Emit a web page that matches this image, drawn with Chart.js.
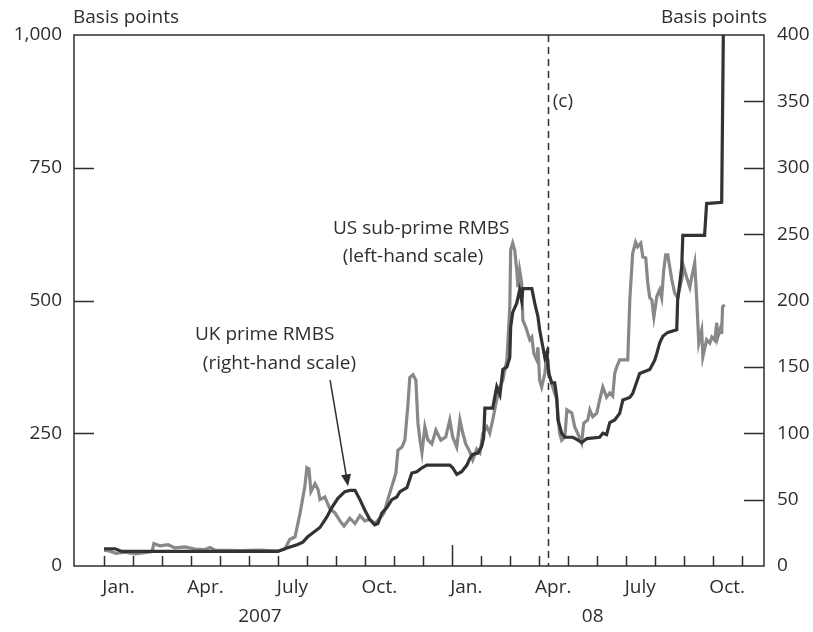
<!DOCTYPE html>
<html lang="en">
<head>
<meta charset="UTF-8">
<title>RMBS spreads</title>
<script src="https://cdn.jsdelivr.net/npm/chart.js"></script>
<style>
  html, body { margin: 0; padding: 0; background: #fff; }
  #wrap { width: 813px; height: 632px; }
</style>
</head>
<body>
<div id="wrap"><canvas id="myChart" width="813" height="632"></canvas></div>
<script>
// x values are months since 1 Jan 2007 (12 = Jan 2008)
const monthLabels = ['Jan.', 'Apr.', 'July', 'Oct.', 'Jan.', 'Apr.', 'July', 'Oct.'];
const monthLabelPos = [0.5, 3.5, 6.5, 9.5, 12.5, 15.5, 18.5, 21.5];
const yearLabels = ['2007', '08'];
const yearLabelPos = [5.38, 16.86];
const leftTicks = [0, 250, 500, 750, 1000];
const rightTicks = [0, 50, 100, 150, 200, 250, 300, 350, 400];

// US sub-prime RMBS, left-hand scale
const usMonths = [0.00, 0.21, 0.41, 0.72, 1.07, 1.41, 1.66, 1.72, 1.93, 2.21, 2.45, 2.79, 3.14, 3.48, 3.66, 3.83, 4.69, 5.38, 6.00,
  6.24, 6.41, 6.59, 6.76, 6.93, 7.00, 7.07, 7.14, 7.28, 7.38, 7.45, 7.62, 7.79, 7.97, 8.14, 8.28, 8.48, 8.66, 8.83, 9.00,
  9.17, 9.34, 9.52, 9.66, 9.79, 9.93, 10.07, 10.14, 10.28, 10.38, 10.48, 10.55, 10.66, 10.76, 10.83, 10.90, 10.97, 11.07,
  11.17, 11.31, 11.45, 11.62, 11.79, 11.93, 12.03, 12.17, 12.28, 12.38, 12.48, 12.62, 12.72, 12.86, 12.97, 13.07, 13.21,
  13.31, 13.41, 13.55, 13.66, 13.76, 13.90, 14.00, 14.03, 14.10, 14.17, 14.24, 14.28, 14.34, 14.41, 14.45, 14.55, 14.69,
  14.76, 14.83, 14.93, 14.97, 15.03, 15.10, 15.21, 15.28, 15.31, 15.38, 15.48, 15.62, 15.72, 15.79, 15.90, 15.97, 16.14,
  16.24, 16.34, 16.48, 16.55, 16.69, 16.76, 16.86, 17.00, 17.10, 17.21, 17.34, 17.45, 17.55, 17.62, 17.69, 17.79, 18.07,
  18.14, 18.24, 18.34, 18.41, 18.52, 18.59, 18.69, 18.76, 18.83, 18.90, 18.97, 19.07, 19.17, 19.24, 19.31, 19.38, 19.45,
  19.59, 19.69, 19.79, 19.93, 20.00, 20.10, 20.21, 20.28, 20.38, 20.45, 20.52, 20.62, 20.66, 20.79, 20.90, 20.97, 21.07,
  21.14, 21.17, 21.28, 21.31, 21.34, 21.41];
const usValues = [30, 28, 24, 26, 23, 25, 27, 42, 38, 40, 34, 36, 32, 31, 35, 30, 29, 30, 28,
  32, 50, 55, 98, 150, 185, 183, 140, 155, 145, 125, 130, 108, 100, 85, 75, 90, 80, 95, 85,
  88, 80, 90, 100, 125, 150, 175, 218, 224, 237, 300, 355, 360, 350, 270, 237, 213, 262,
  238, 230, 256, 237, 243, 275, 243, 224, 275, 250, 230, 215, 200, 220, 213, 250, 262,
  250, 275, 313, 337, 350, 388, 488, 595, 608, 595, 557, 525, 557, 533, 463, 450, 426,
  431, 400, 388, 412, 350, 337, 363, 401, 382, 356, 337, 313, 250, 237, 243, 294, 288,
  262, 250, 232, 269, 275, 294, 281, 288, 313, 337, 318, 326, 320, 363, 375, 388, 388,
  501, 589, 610, 601, 608, 582, 580, 533, 505, 501, 469, 507, 520, 505, 557, 586, 586,
  539, 514, 505, 539, 563, 544, 525, 545, 571, 501, 420, 444, 394, 426, 420, 431, 425,
  458, 430, 450, 437, 488, 492];

// UK prime RMBS, right-hand scale
const ukMonths = [0.00, 0.38, 0.62, 6.00, 6.31, 6.66, 6.86, 7.03, 7.21, 7.45, 7.69, 7.86, 8.07, 8.31, 8.48, 8.66, 8.83,
  9.00, 9.17, 9.34, 9.45, 9.59, 9.76, 9.93, 10.10, 10.21, 10.45, 10.62, 10.79, 10.97, 11.14, 11.93, 12.03, 12.17, 12.34,
  12.52, 12.62, 12.72, 12.90, 13.03, 13.10, 13.14, 13.41, 13.55, 13.66, 13.76, 13.90, 14.00, 14.03, 14.10, 14.24, 14.34,
  14.41, 14.45, 14.76, 14.86, 14.97, 15.03, 15.14, 15.21, 15.28, 15.34, 15.45, 15.55, 15.62, 15.66, 15.79, 15.90, 16.17,
  16.34, 16.48, 16.66, 17.10, 17.21, 17.34, 17.45, 17.62, 17.79, 17.90, 18.14, 18.24, 18.48, 18.83, 19.00, 19.07, 19.17,
  19.28, 19.45, 19.76, 19.79, 19.93, 19.97, 20.72, 20.79, 21.31, 21.38];
const ukValues = [13, 13, 11, 11, 13.6, 16, 18, 22, 25, 29, 37, 44, 51, 56, 57, 57, 50,
  42, 35, 31, 32, 40, 44, 50, 52, 56, 59, 70, 71, 74, 76, 76, 74, 69, 71,
  76, 81, 84, 85, 90, 97, 119, 119, 135, 129, 148, 150, 157, 180, 191, 198, 208,
  200, 209, 209, 198, 188, 178, 165, 157, 161, 145, 138, 138, 127, 110, 100, 97, 97,
  95, 93, 96, 97, 100, 99, 108, 110, 115, 125, 127, 130, 145, 148, 155, 160, 168,
  173, 176, 178, 200, 225, 249, 249, 273, 274, 430];

const markerMonth = 15.33; // dashed line (c)

const INK = '#2e2e2e';
const FONT = '"Open Sans", "Noto Sans", sans-serif';
const FSIZE = 19;

const zip = (xs, ys) => xs.map((x, i) => ({ x: x, y: ys[i] }));

const decorations = {
  id: 'decorations',
  beforeDatasetsDraw(chart) {
    const { ctx, chartArea: a, scales } = chart;
    const x = scales.x;
    ctx.save();
    ctx.strokeStyle = INK;
    ctx.lineWidth = 1.5;
    ctx.setLineDash([7, 5]);
    const px = Math.round(x.getPixelForValue(markerMonth)) + 0.5;
    ctx.beginPath();
    ctx.moveTo(px, a.top);
    ctx.lineTo(px, a.bottom);
    ctx.stroke();
    ctx.restore();
  },
  afterDraw(chart) {
    const { ctx, chartArea: a, scales } = chart;
    const x = scales.x, y = scales.y, y1 = scales.y1;
    ctx.save();
    ctx.strokeStyle = INK;
    ctx.lineWidth = 1.5;
    ctx.strokeRect(a.left, a.top, a.right - a.left, a.bottom - a.top);

    // month ticks along the bottom, pointing in
    ctx.beginPath();
    for (let m = 0; m <= 22; m++) {
      const px = Math.round(x.getPixelForValue(m)) + 0.5;
      const len = m === 12 ? 21 : 10;
      ctx.moveTo(px, a.bottom);
      ctx.lineTo(px, a.bottom - len);
    }
    // y ticks, pointing in
    [250, 500, 750].forEach(v => {
      const py = Math.round(y.getPixelForValue(v)) + 0.5;
      ctx.moveTo(a.left, py);
      ctx.lineTo(a.left + 20, py);
    });
    [50, 100, 150, 200, 250, 300, 350].forEach(v => {
      const py = Math.round(y1.getPixelForValue(v)) + 0.5;
      ctx.moveTo(a.right, py);
      ctx.lineTo(a.right - 20, py);
    });
    ctx.stroke();

    ctx.fillStyle = INK;
    ctx.font = FSIZE + 'px ' + FONT;
    ctx.textBaseline = 'middle';
    ctx.textAlign = 'left';
    ctx.fillText('Basis points', a.left - 1, 18);
    ctx.textAlign = 'right';
    ctx.fillText('Basis points', a.right + 3, 18);

    ctx.textAlign = 'center';
    yearLabels.forEach((t, i) => ctx.fillText(t, x.getPixelForValue(yearLabelPos[i]), 617));

    // annotations
    ctx.textAlign = 'left';
    const txt = (s, mx, vy) => ctx.fillText(s, x.getPixelForValue(mx), y.getPixelForValue(vy));
    txt('US sub-prime RMBS', 7.90, 636);
    txt('(left-hand scale)', 8.24, 582);
    txt('UK prime RMBS', 3.14, 435);
    txt('(right-hand scale)', 3.41, 382);
    txt('(c)', 15.48, 874);

    // arrow to UK line
    const x0 = x.getPixelForValue(7.80), yA = y.getPixelForValue(350);
    const x1 = x.getPixelForValue(8.42), yB = y.getPixelForValue(150);
    const ang = Math.atan2(yB - yA, x1 - x0);
    ctx.lineWidth = 1.5;
    ctx.beginPath();
    ctx.moveTo(x0, yA);
    ctx.lineTo(x1 - 8 * Math.cos(ang), yB - 8 * Math.sin(ang));
    ctx.stroke();
    ctx.beginPath();
    ctx.moveTo(x1, yB);
    ctx.lineTo(x1 - 12 * Math.cos(ang) + 5 * Math.sin(ang), yB - 12 * Math.sin(ang) - 5 * Math.cos(ang));
    ctx.lineTo(x1 - 12 * Math.cos(ang) - 5 * Math.sin(ang), yB - 12 * Math.sin(ang) + 5 * Math.cos(ang));
    ctx.closePath();
    ctx.fill();
    ctx.restore();
  }
};

const config = {
  type: 'line',
  data: {
    datasets: [{
      label: 'UK prime RMBS (right-hand scale)',
      data: zip(ukMonths, ukValues),
      yAxisID: 'y1',
      borderColor: '#333333',
      borderWidth: 3.2,
      pointRadius: 0,
      tension: 0
    }, {
      label: 'US sub-prime RMBS (left-hand scale)',
      data: zip(usMonths, usValues),
      yAxisID: 'y',
      borderColor: '#888888',
      borderWidth: 3.2,
      pointRadius: 0,
      tension: 0
    }]
  },
  options: {
    responsive: false,
    animation: false,
    events: [],
    layout: { padding: { top: 35, left: 0, right: 0, bottom: 0 } },
    plugins: { legend: { display: false }, tooltip: { enabled: false } },
    scales: {
      x: {
        type: 'linear',
        min: -1.035,
        max: 22.77,
        grid: { display: false, drawTicks: false },
        border: { display: false },
        afterBuildTicks: s => { s.ticks = monthLabelPos.map(v => ({ value: v })); },
        afterFit: s => { s.height = 66; },
        ticks: {
          autoSkip: false,
          maxRotation: 0,
          padding: 10,
          color: INK,
          font: { family: FONT, size: FSIZE },
          callback: (v, i) => monthLabels[i]
        }
      },
      y: {
        position: 'left',
        min: 0,
        max: 1000,
        grid: { display: false, drawTicks: false },
        border: { display: false },
        afterBuildTicks: s => { s.ticks = leftTicks.map(v => ({ value: v })); },
        afterFit: s => { s.width = 74; },
        ticks: {
          padding: 12,
          color: INK,
          font: { family: FONT, size: FSIZE },
          callback: v => v.toLocaleString('en-US')
        }
      },
      y1: {
        position: 'right',
        min: 0,
        max: 400,
        grid: { display: false, drawTicks: false },
        border: { display: false },
        afterBuildTicks: s => { s.ticks = rightTicks.map(v => ({ value: v })); },
        afterFit: s => { s.width = 49; },
        ticks: {
          padding: 13,
          color: INK,
          font: { family: FONT, size: FSIZE },
          callback: v => String(v)
        }
      }
    }
  },
  plugins: [decorations]
};

new Chart(document.getElementById('myChart'), config);
</script>
</body>
</html>
